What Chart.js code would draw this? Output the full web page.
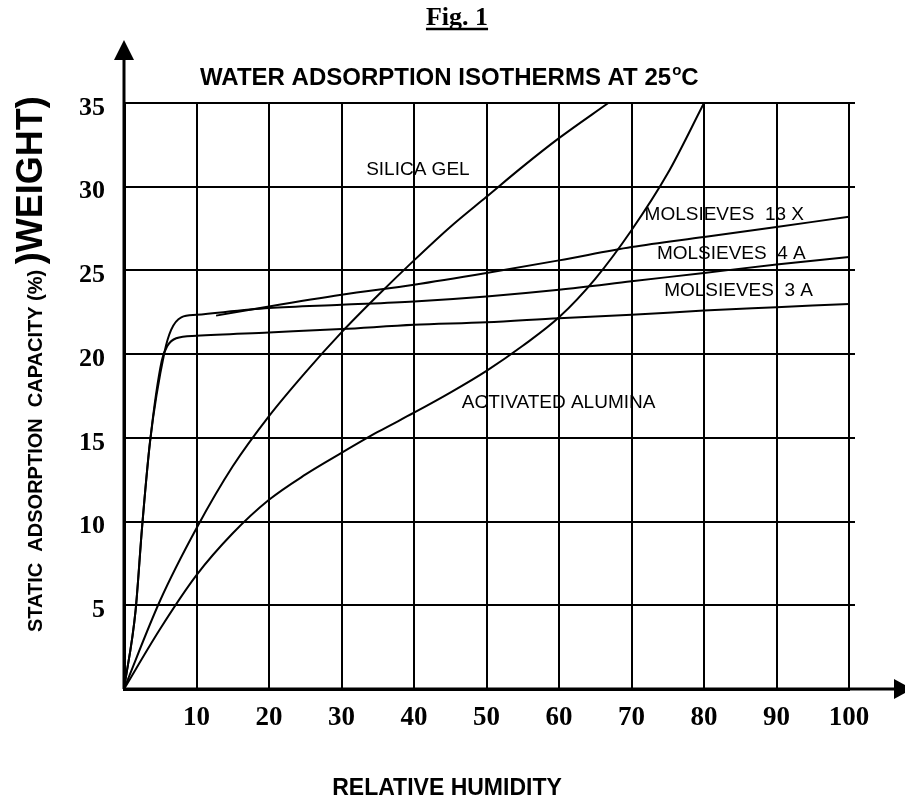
<!DOCTYPE html>
<html>
<head>
<meta charset="utf-8">
<script src="https://cdn.jsdelivr.net/npm/chart.js@4.4.1/dist/chart.umd.min.js"></script>
<style>
  body { margin: 0; background: #fff; }
</style>
</head>
<body>
<canvas id="isoChart" width="905" height="800"></canvas>
<script>
// values: relative humidity (%) -> capacity (% weight)
const silicaRH   = [0, 5, 10, 15, 20, 25, 30, 35, 40, 45, 50, 55, 60, 66.8];
const silicaCap  = [0, 5.3, 9.6, 13.3, 16.3, 18.9, 21.3, 23.5, 25.6, 27.6, 29.4, 31.2, 32.9, 35];

const aluminaRH  = [0, 5, 10, 15, 20, 25, 30, 35, 40, 45, 50, 55, 60, 65, 70, 75, 80];
const aluminaCap = [0, 3.6, 6.8, 9.3, 11.3, 12.8, 14.1, 15.35, 16.5, 17.7, 19.0, 20.5, 22.2, 24.5, 27.4, 30.8, 35];

const sieve3aRH  = [0, 1.6, 2.5, 3.6, 5.2, 6.0, 7.2, 10, 20, 30, 40, 50, 60, 70, 80, 90, 100];
const sieve3aCap = [0, 4.7, 9.7, 14.8, 19.6, 20.5, 20.95, 21.1, 21.3, 21.5, 21.75, 21.9, 22.15, 22.35, 22.6, 22.8, 23.0];

const sieve4aRH  = [0, 1.6, 2.5, 3.6, 5.6, 6.5, 7.9, 10, 20, 30, 40, 50, 60, 70, 80, 90, 100];
const sieve4aCap = [0, 4.7, 9.7, 14.8, 20.15, 21.45, 22.2, 22.35, 22.75, 22.95, 23.15, 23.45, 23.85, 24.35, 24.85, 25.35, 25.8];

const sieve13xRH  = [12.7, 20, 30, 40, 50, 60, 70, 80, 90, 100];
const sieve13xCap = [22.3, 22.85, 23.55, 24.15, 24.85, 25.6, 26.4, 27.0, 27.6, 28.2];

// curve names, placed in data units (left edge, middle of text)
const curveNames = ['SILICA GEL', 'MOLSIEVES  13 X', 'MOLSIEVES  4 A', 'MOLSIEVES  3 A', 'ACTIVATED ALUMINA'];
const nameRH     = [33.4, 71.8, 73.5, 74.5, 46.6];
const nameCap    = [31.0, 28.3, 26.0, 23.8, 17.1];

const xTicks = [10, 20, 30, 40, 50, 60, 70, 80, 90, 100];
const yTicks = [5, 10, 15, 20, 25, 30, 35];

function pts(xs, ys) {
  return xs.map((x, i) => ({x: x, y: ys[i]}));
}

function curve(xs, ys) {
  return {
    data: pts(xs, ys),
    borderColor: '#000',
    borderWidth: 2,
    pointRadius: 0,
    cubicInterpolationMode: 'monotone',
    fill: false
  };
}

//draws arrows, titles and curve names on top of the chart
const figureDecor = {
  id: 'figureDecor',
  afterDraw(chart) {
    const ctx = chart.ctx;
    const xs = chart.scales.x, ys = chart.scales.y;
    const left = xs.getPixelForValue(0), bottom = ys.getPixelForValue(0);
    const right = xs.getPixelForValue(100);
    ctx.save();
    ctx.fillStyle = '#000';
    ctx.strokeStyle = '#000';

    // horizontal grid lines poke out past the right border
    ctx.lineWidth = 2;
    ctx.beginPath();
    yTicks.forEach(v => {
      const py = Math.round(ys.getPixelForValue(v));
      ctx.moveTo(right, py);
      ctx.lineTo(right + 6, py);
    });
    ctx.stroke();

    // axis lines with arrow heads
    ctx.lineWidth = 3;
    ctx.beginPath();
    ctx.moveTo(left, bottom);
    ctx.lineTo(left, 58);
    ctx.moveTo(left, bottom);
    ctx.lineTo(896, bottom);
    ctx.stroke();
    ctx.beginPath();
    ctx.moveTo(left, 40);
    ctx.lineTo(left - 10, 60);
    ctx.lineTo(left + 10, 60);
    ctx.closePath();
    ctx.fill();
    ctx.beginPath();
    ctx.moveTo(912, bottom);
    ctx.lineTo(894, bottom - 10);
    ctx.lineTo(894, bottom + 10);
    ctx.closePath();
    ctx.fill();

    // Fig. 1
    ctx.font = 'bold 26px "Liberation Serif"';
    ctx.textAlign = 'center';
    ctx.textBaseline = 'alphabetic';
    ctx.fillText('Fig. 1', 457, 25);
    const fw = ctx.measureText('Fig. 1').width;
    ctx.lineWidth = 2.5;
    ctx.beginPath();
    ctx.moveTo(457 - fw / 2, 29);
    ctx.lineTo(457 + fw / 2, 29);
    ctx.stroke();

    // chart title with degree sign
    ctx.textAlign = 'left';
    ctx.font = 'bold 24px "Liberation Sans"';
    const t1 = 'WATER ADSORPTION ISOTHERMS AT 25';
    ctx.fillText(t1, 200, 85);
    let tx = 200 + ctx.measureText(t1).width + 1;
    ctx.font = 'bold 15px "Liberation Sans"';
    ctx.fillText('o', tx, 75);
    tx += ctx.measureText('o').width;
    ctx.font = 'bold 24px "Liberation Sans"';
    ctx.fillText('C', tx, 85);

    // x axis title
    ctx.textAlign = 'center';
    ctx.font = 'bold 23px "Liberation Sans"';
    ctx.fillText('RELATIVE HUMIDITY', 447, 795);

    // y axis title, two sizes
    ctx.save();
    ctx.translate(42, 632);
    ctx.rotate(-Math.PI / 2);
    ctx.textAlign = 'left';
    ctx.font = 'bold 20px "Liberation Sans"';
    const small = 'STATIC  ADSORPTION  CAPACITY (%) ';
    ctx.fillText(small, 0, 0);
    const sw = ctx.measureText(small).width;
    ctx.font = 'bold 36px "Liberation Sans"';
    ctx.fillText(')WEIGHT)', sw, 0);
    ctx.restore();

    // curve names
    ctx.font = '19px "Liberation Sans"';
    ctx.textAlign = 'left';
    ctx.textBaseline = 'middle';
    curveNames.forEach((n, i) => {
      ctx.fillText(n, xs.getPixelForValue(nameRH[i]), ys.getPixelForValue(nameCap[i]));
    });
    ctx.restore();
  }
};

new Chart('isoChart', {
  type: 'line',
  data: {
    datasets: [
      curve(silicaRH, silicaCap),
      curve(aluminaRH, aluminaCap),
      curve(sieve3aRH, sieve3aCap),
      curve(sieve4aRH, sieve4aCap),
      curve(sieve13xRH, sieve13xCap)
    ]
  },
  options: {
    responsive: false,
    animation: false,
    devicePixelRatio: 1,
    layout: {padding: {left: 0, top: 103, right: 56, bottom: 0}},
    plugins: {legend: {display: false}, tooltip: {enabled: false}},
    scales: {
      x: {
        type: 'linear',
        min: 0,
        max: 100,
        afterFit(scale) { scale.height = 111; },
        afterBuildTicks(scale) { scale.ticks = [0].concat(xTicks).map(v => ({value: v})); },
        ticks: {
          color: '#000',
          padding: 13,
          font: {family: 'Liberation Serif', size: 27, weight: 'bold'},
          callback: v => (v === 0 ? '' : v)
        },
        grid: {color: '#000', lineWidth: 2, drawTicks: false},
        border: {display: true, color: '#000', width: 3}
      },
      y: {
        min: 0,
        max: 35,
        afterFit(scale) { scale.width = 124; },
        afterBuildTicks(scale) { scale.ticks = [0].concat(yTicks).map(v => ({value: v})); },
        ticks: {
          color: '#000',
          padding: 19,
          labelOffset: 5,
          font: {family: 'Liberation Serif', size: 26, weight: 'bold'},
          callback: v => (v === 0 ? '' : v)
        },
        grid: {color: '#000', lineWidth: 2, drawTicks: false},
        border: {display: true, color: '#000', width: 3}
      }
    }
  },
  plugins: [figureDecor]
});
</script>
</body>
</html>
